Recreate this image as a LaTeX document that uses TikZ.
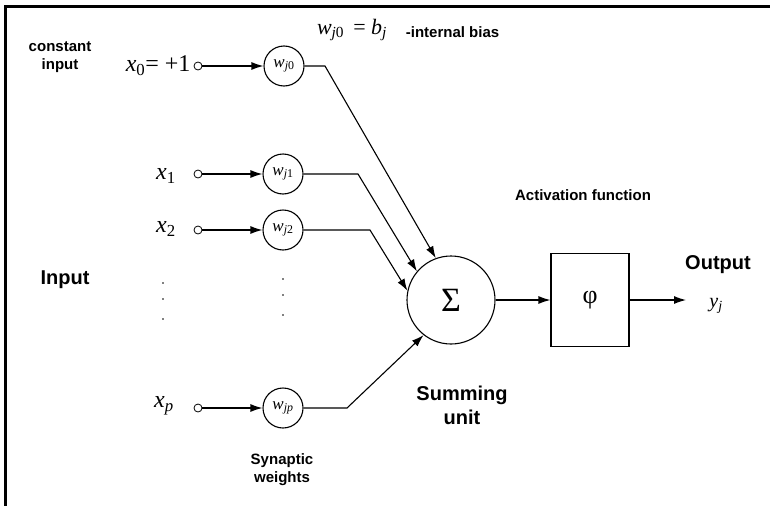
\documentclass[tikz,border=0pt]{standalone}
\usepackage{fontspec}
\setmainfont{Liberation Serif}
\setsansfont{Liberation Sans}
\usetikzlibrary{arrows.meta,positioning}

\newcommand{\fsz}[1]{\fontsize{#1}{1.2\dimexpr#1pt\relax}\selectfont}
\newcommand{\wsub}[2]{\textit{#1}\textsubscript{#2}}

\tikzset{
  term/.style={draw, circle, inner sep=0pt, minimum size=8pt, line width=0.8pt},
  wcirc/.style={draw, circle, inner sep=0pt, minimum size=40pt, font=\fsz{17}},
  smalllbl/.style={font=\sffamily\bfseries\fsz{15}, align=center},
  biglbl/.style={font=\sffamily\bfseries\fsz{20}, align=center},
  var/.style={font=\fsz{24}, inner sep=1pt},
  dotc/.style={circle, fill, inner sep=0pt, minimum size=1.6pt},
}

\begin{document}
\begin{tikzpicture}[x=1pt, y=-1pt, >={Latex[length=12pt,width=8pt]}, line width=1.1pt]
\useasboundingbox (0,0) rectangle (770,506);
% frame: only top and left edges show
\draw[line width=3pt] (770,6) -- (5.5,6) -- (5.5,506);

% inputs
\node (const) [smalllbl] at (60,57) {constant\\input};
\node (input) [biglbl] at (65,280) {Input};
\node (x0) [var, anchor=east] at (192,66) {\wsub{x}{0}= +1};
\node (x1) [var] at (166,176) {\wsub{x}{1}};
\node (x2) [var] at (166,229) {\wsub{x}{2}};
\node (xp) [var] at (164,406) {\wsub{x}{\textit{p}}};

\node (t0) [term] at (198,66) {};
\node (t1) [term] at (198,174) {};
\node (t2) [term] at (198,230) {};
\node (tp) [term] at (198,408) {};

% synaptic weights
\node (w0) [wcirc] at (284,66) {\wsub{w}{\textit{j}0}};
\node (w1) [wcirc] at (283,174) {\wsub{w}{\textit{j}1}};
\node (w2) [wcirc] at (283,230) {\wsub{w}{\textit{j}2}};
\node (wp) [wcirc] at (283,408) {\wsub{w}{\textit{jp}}};
\node (bias) [var, font=\fsz{22}] at (352,30) {\wsub{w}{\textit{j}0} \,= \wsub{b}{\textit{j}}};
\node (biaslbl) [smalllbl, anchor=west] at (402,32) {-internal bias};
\node (synlbl) [smalllbl] at (282,470) {Synaptic\\weights};

% dots
\foreach \y [count=\i] in {283,299,319} {
  \node (da\i) [dotc] at (163,\y) {};
  \node (db\i) [dotc] at (283,\y-4) {};
}

% summing unit and activation
\node (sum) [draw, circle, minimum size=88pt, inner sep=0pt, font=\fsz{34}] at (451,300) {Σ};
\node (sumlbl) [biglbl] at (462,405) {Summing\\unit};
\node (phi) [draw, rectangle, minimum width=78pt, minimum height=93pt, font=\fsz{26}] at (590,300) {φ};
\node (actlbl) [smalllbl] at (583,195) {Activation function};
\node (outlbl) [biglbl] at (718,265) {Output};
\node (yj) [var, font=\fsz{20}] at (716,306) {\wsub{y}{\textit{j}}};
\coordinate (out) at (686,300);

\coordinate (b0) at (325,66);
\coordinate (b1) at (358,174);
\coordinate (b2) at (370,230);
\coordinate (bp) at (347,408);

% connectors
\draw[->] (t0) -- (w0);
\draw[->] (t1) -- (w1);
\draw[->] (t2) -- (w2);
\draw[->] (tp) -- (wp);
\draw[->] (w0) -- (b0) -- (sum.110);
\draw[->] (w1) -- (b1) -- (sum.140);
\draw[->] (w2) -- (b2) -- (sum.168);
\draw[->] (wp) -- (bp) -- (sum.232);
\draw[->] (sum) -- (phi);
\draw[->] (phi) -- (out);
\end{tikzpicture}
\end{document}
